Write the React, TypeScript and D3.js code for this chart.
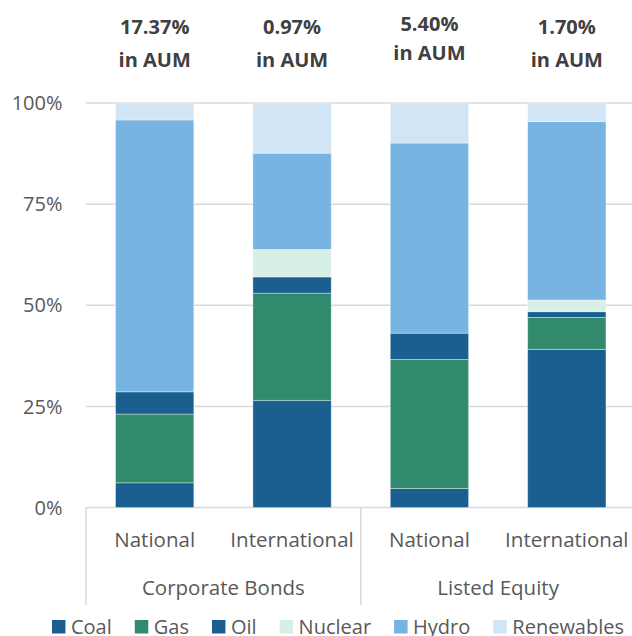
import React, { useEffect, useRef } from "react";
import * as d3 from "d3";

const categories = ["National", "International", "National", "International"];
const groups = ["Corporate Bonds", "Listed Equity"];
const aumLabels = ["17.37%", "0.97%", "5.40%", "1.70%"];
const seriesNames = ["Coal", "Gas", "Oil", "Nuclear", "Hydro", "Renewables"];
const coal = [6.1, 26.5, 4.7, 39.1];
const gas = [17.0, 26.5, 31.9, 7.9];
const oil = [5.5, 4.0, 6.5, 1.4];
const nuclear = [0, 6.8, 0, 2.9];
const hydro = [67.2, 23.8, 47.0, 44.1];
const renewables = [4.2, 12.4, 9.9, 4.6];
const yTicks = [0, 25, 50, 75, 100];
const colors = ["#1b5f91", "#318a6e", "#1b5f91", "#d8efe8", "#77b4e2", "#d1e5f4"];

const W = 632;
const H = 636;
const FONT = "'Open Sans', sans-serif";

export default function App() {
  const ref = useRef<SVGSVGElement | null>(null);

  useEffect(() => {
    const svg = d3.select(ref.current);
    svg.selectAll("*").remove();

    const values = [coal, gas, oil, nuclear, hydro, renewables];
    const rows = categories.map((c, i) => {
      const r: any = { idx: i };
      seriesNames.forEach((s, k) => (r[s] = values[k][i]));
      return r;
    });
    const stacked = d3.stack<any>().keys(seriesNames)(rows);

    const x = d3
      .scaleBand<number>()
      .domain(d3.range(categories.length))
      .range([86, 635.5])
      .paddingInner(0.43)
      .paddingOuter(0.215);
    const band = d3.scaleBand<number>().domain(d3.range(categories.length)).range([86, 635.5]);
    const y = d3.scaleLinear().domain([0, 100]).range([507.5, 103]);

    // gridlines
    svg
      .append("g")
      .selectAll("line")
      .data(yTicks)
      .join("line")
      .attr("x1", 86)
      .attr("x2", W)
      .attr("y1", (d) => y(d))
      .attr("y2", (d) => y(d))
      .attr("stroke", "#d9d9d9")
      .attr("stroke-width", 1.5);

    // y labels
    svg
      .append("g")
      .selectAll("text")
      .data(yTicks)
      .join("text")
      .attr("x", 62.5)
      .attr("y", (d) => y(d))
      .attr("dy", "0.36em")
      .attr("text-anchor", "end")
      .attr("font-family", FONT)
      .attr("font-size", 20)
      .attr("fill", "#595959")
      .text((d) => d + "%");

    // bars
    svg
      .append("g")
      .selectAll("g")
      .data(stacked)
      .join("g")
      .attr("fill", (_, k) => colors[k])
      .selectAll("rect")
      .data((d) => d)
      .join("rect")
      .attr("x", (d: any) => x(d.data.idx)!)
      .attr("width", x.bandwidth())
      .attr("y", (d: any) => y(d[1]))
      .attr("height", (d: any) => Math.max(0, y(d[0]) - y(d[1])))
      .attr("stroke", "#ffffff")
      .attr("stroke-opacity", (d: any) => (d[1] - d[0] > 0 ? 0.45 : 0))
      .attr("stroke-width", 0.8);

    // category axis lines
    const groupEdges = [0, 2, 4].map((i) => (i < 4 ? band(i)! : band.range()[1]));
    svg
      .append("g")
      .selectAll("line")
      .data(groupEdges)
      .join("line")
      .attr("x1", (d) => d)
      .attr("x2", (d) => d)
      .attr("y1", y(0))
      .attr("y2", 605)
      .attr("stroke", "#d9d9d9")
      .attr("stroke-width", 1.5);

    // category labels
    svg
      .append("g")
      .selectAll("text")
      .data(categories)
      .join("text")
      .attr("x", (_, i) => band(i)! + band.bandwidth() / 2)
      .attr("y", 547)
      .attr("text-anchor", "middle")
      .attr("font-family", FONT)
      .attr("font-size", 20.5)
      .attr("fill", "#595959")
      .text((d) => d);

    svg
      .append("g")
      .selectAll("text")
      .data(groups)
      .join("text")
      .attr("x", (_, g) => band(g * 2)! + band.bandwidth())
      .attr("y", 595)
      .attr("text-anchor", "middle")
      .attr("font-family", FONT)
      .attr("font-size", 20.5)
      .attr("fill", "#595959")
      .text((d) => d);

    // AUM labels
    const top = svg.append("g");
    aumLabels.forEach((lab, i) => {
      const cx = band(i)! + band.bandwidth() / 2;
      const shift = i === 2 ? -3 : 0;
      const t = top
        .append("text")
        .attr("text-anchor", "middle")
        .attr("font-family", FONT)
        .attr("font-weight", "bold")
        .attr("font-size", 20)
        .attr("fill", "#404040");
      t.append("tspan").attr("x", cx).attr("y", 34 + shift).text(lab);
      t.append("tspan").attr("x", cx).attr("y", 67 + shift * 2.3).text("in AUM");
    });

    // legend
    const leg = svg.append("g");
    const sq = 13.5;
    const gapText = 5.5;
    const gapItem = 23;
    const items = seriesNames.map((name, k) => {
      const g = leg.append("g");
      g.append("rect")
        .attr("width", sq)
        .attr("height", sq)
        .attr("y", 620)
        .attr("fill", colors[k]);
      const t = g
        .append("text")
        .attr("x", sq + gapText)
        .attr("y", 633.5)
        .attr("font-family", FONT)
        .attr("font-size", 20)
        .attr("fill", "#595959")
        .text(name);
      const w = (t.node() as SVGTextElement).getComputedTextLength();
      return { g, w: sq + gapText + w };
    });
    const total = d3.sum(items, (d) => d.w) + gapItem * (items.length - 1);
    let cur = 338 - total / 2;
    items.forEach((it) => {
      it.g.attr("transform", `translate(${cur},0)`);
      cur += it.w + gapItem;
    });
  }, []);

  return (
    <svg
      ref={ref}
      width={W}
      height={H}
      style={{ position: "absolute", left: 0, top: 0, background: "#ffffff" }}
    />
  );
}
